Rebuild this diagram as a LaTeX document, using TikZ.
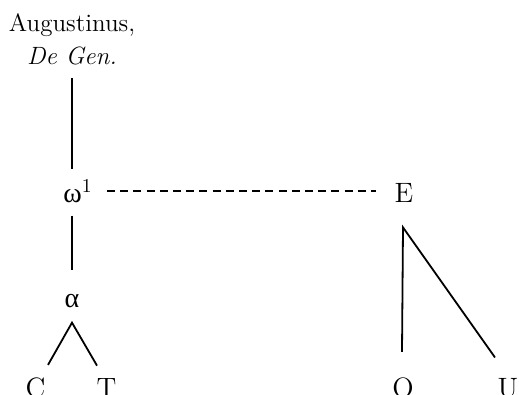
\documentclass[tikz,border=0pt]{standalone}
\usepackage{fontspec}
\newfontfamily\grk{Liberation Serif}
\usetikzlibrary{arrows.meta}
\tikzset{
    ms/.style={inner sep=0pt, font=\fontsize{14}{16}\selectfont},
    stem/.style={line width=0.9pt},
    link/.style={line width=0.9pt, dash pattern=on 4pt off 2.6pt}
}

\begin{document}
\begin{tikzpicture}[x=0.5pt, y=-0.5pt]
    \useasboundingbox (0,0) rectangle (519,395);
    \begin{scope}
        \node[ms, align=center, anchor=north, font=\fontsize{12.5}{16.5}\selectfont] (aug) at (72,13) {Augustinus,\\\textit{De Gen.}};
        \node[ms, anchor=base west] (w) at (63,203) {{\grk ω}\textsuperscript{1}};
        \node[ms, anchor=base] (alpha) at (72,307) {\grk α};
        \node[ms, anchor=base] (C) at (35.5,397) {C};
        \node[ms, anchor=base] (T) at (106.5,397) {T};

        \node[ms, anchor=base] (E) at (404,203) {E};
        \node[ms, anchor=base] (O) at (403,397) {O};
        \node[ms, anchor=base] (U) at (508,397) {U};

        \draw[stem, shorten <=6.5pt, shorten >=5pt] (aug.south) -- (aug.south |- w.north);
        \draw[stem, shorten <=6pt, shorten >=11.5pt] (alpha.north |- w.south) -- (alpha.north);
        \draw[stem] ([xshift=6.25pt, yshift=6pt]C.north) -- ([yshift=-7.5pt]alpha.south) -- ([xshift=-4.75pt, yshift=6pt]T.north);

        \draw[link, shorten <=7pt, shorten >=9pt] (w.east) -- (w.east -| E.west);

        \draw[stem] ([xshift=-0.5pt, yshift=12.5pt]O.north) -- ([xshift=-0.5pt, yshift=-12pt]E.south) -- ([xshift=-6.5pt, yshift=10pt]U.north);
    \end{scope}
\end{tikzpicture}
\end{document}
